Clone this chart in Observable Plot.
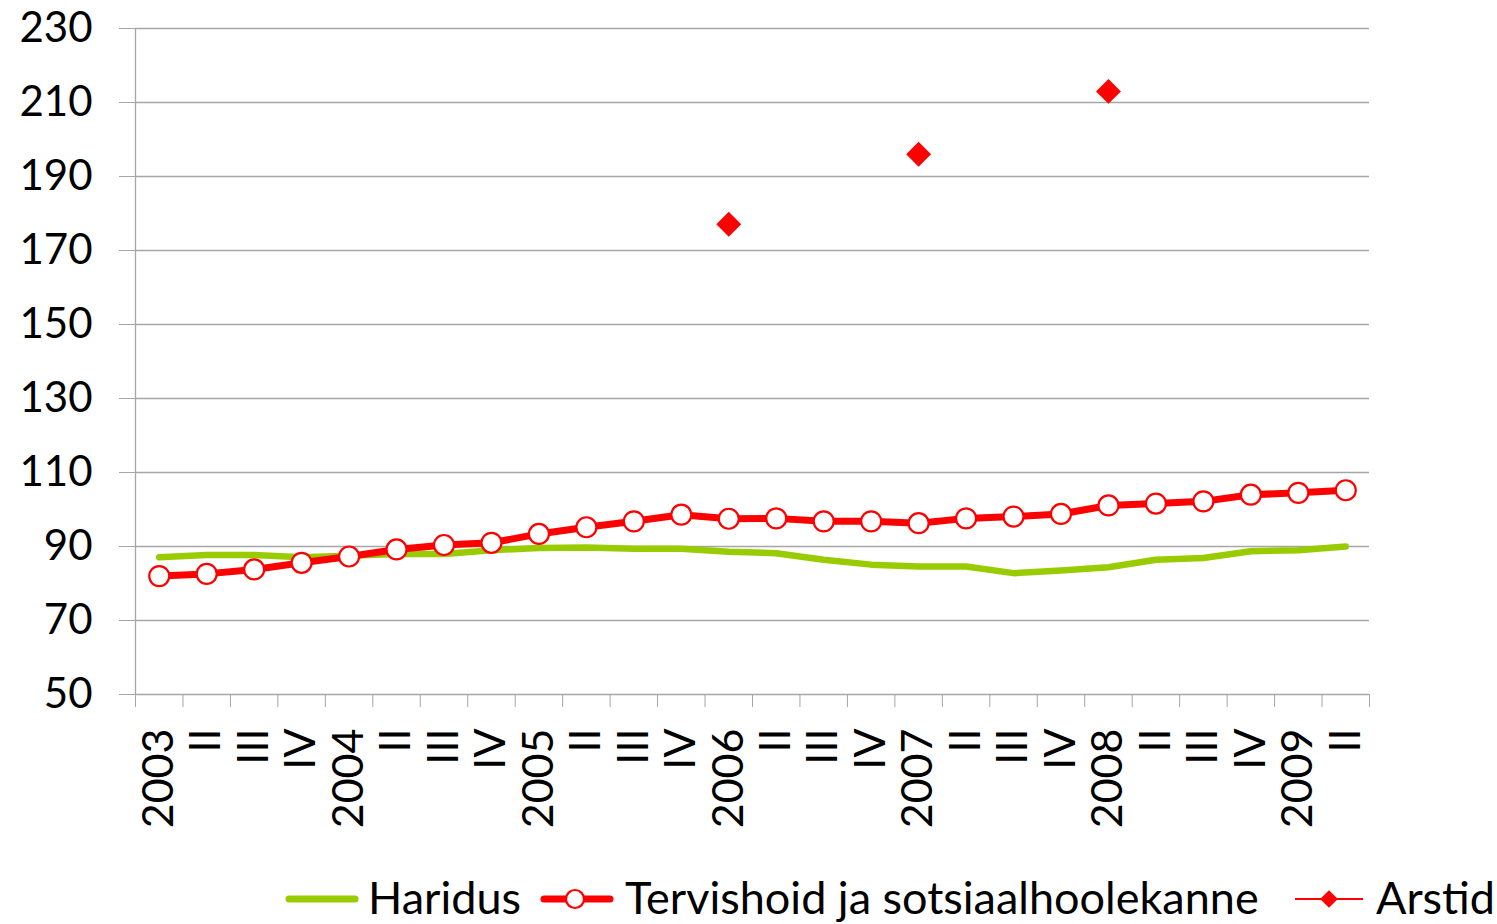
<!DOCTYPE html>
<html>
<head>
<meta charset="utf-8">
<script src="https://cdn.jsdelivr.net/npm/d3@7"></script>
<script src="https://cdn.jsdelivr.net/npm/@observablehq/plot@0.6"></script>
<style>
  body { margin: 0; background: #fff; font-family: Lato, "Open Sans", sans-serif; overflow: hidden; }
  #legend { position: relative; width: 1497px; height: 64px; font-size: 45px; line-height: 1.2; color: #000; }
  #legend .it { position: absolute; top: 0; height: 64px; display: flex; align-items: flex-end; white-space: nowrap; }
  #legend svg { display: block; }
</style>
</head>
<body>
<div id="chart"></div>
<div id="legend"></div>
<script>
const quarters = ["2003","II","III","IV","2004","II","III","IV","2005","II","III","IV","2006","II","III","IV","2007","II","III","IV","2008","II","III","IV","2009","II"];
const haridus = [87.1,87.7,87.7,87.1,87.5,88.0,88.0,89.0,89.6,89.7,89.4,89.4,88.6,88.2,86.4,85.1,84.6,84.6,82.8,83.5,84.4,86.4,86.9,88.7,89.0,90.0];
const tervishoid = [82.0,82.6,83.8,85.6,87.3,89.2,90.4,91.0,93.4,95.2,96.8,98.6,97.5,97.6,96.8,96.8,96.3,97.6,98.1,98.8,101.1,101.6,102.2,104.0,104.5,105.2];
const arstid = [null,null,null,null,null,null,null,null,null,null,null,null,177.1,null,null,null,196.0,null,null,null,213.0,null,null,null,null,null];
const yTicks = [50,70,90,110,130,150,170,190,210,230];
const seriesNames = ["Haridus","Tervishoid ja sotsiaalhoolekanne","Arstid"];

const GREEN = "#99cc00", RED = "#ff0000", GRID = "#a6a6a6";
const idx = quarters.map((_, i) => i);
const xDomain = [-0.5, quarters.length - 0.5];
const boundaries = d3.range(quarters.length + 1).map(i => i - 0.5);
const hData = idx.map(i => ({i, v: haridus[i]}));
const tData = idx.map(i => ({i, v: tervishoid[i]}));
const aData = idx.filter(i => arstid[i] != null).map(i => ({i, v: arstid[i]}));

const chart = Plot.plot({
  width: 1497,
  height: 860,
  marginLeft: 135,
  marginRight: 128,
  marginTop: 28,
  marginBottom: 166,
  style: {fontFamily: "Lato, 'Open Sans', sans-serif", fontSize: "43px", background: "#fff", color: "#000"},
  x: {domain: xDomain},
  y: {domain: [yTicks[0], yTicks[yTicks.length - 1]]},
  marks: [
    Plot.ruleY(yTicks, {stroke: GRID, strokeWidth: 1.3}),
    Plot.ruleX([xDomain[0]], {stroke: GRID, strokeWidth: 1.3}),
    Plot.axisY({ticks: yTicks, tickSize: 16, tickPadding: 27, stroke: GRID, fill: "#000", fontSize: 42, label: null}),
    Plot.axisX({ticks: boundaries, tickSize: 13, tickFormat: () => "", stroke: GRID, label: null}),
    Plot.axisX({ticks: idx, tickSize: 0, tickPadding: 34, tickRotate: -90, tickFormat: i => quarters[i], fill: "#000", label: null}),
    Plot.line(hData, {x: "i", y: "v", stroke: GREEN, strokeWidth: 6.5, strokeLinecap: "round", strokeLinejoin: "round"}),
    Plot.line(tData, {x: "i", y: "v", stroke: RED, strokeWidth: 7, strokeLinejoin: "round"}),
    Plot.dot(tData, {x: "i", y: "v", r: 10, fill: "#fff", stroke: RED, strokeWidth: 2.2}),
    Plot.dot(aData, {x: "i", y: "v", symbol: "diamond2", r: 11.2, fill: RED, stroke: "none"})
  ]
});
document.getElementById("chart").appendChild(chart);

// Legend
const legend = document.getElementById("legend");
const items = [
  {left: 285, textLeft: 368, w: 74, draw: s => {
    s.append("line").attr("x1", 4).attr("x2", 70).attr("y1", 25).attr("y2", 25)
      .attr("stroke", GREEN).attr("stroke-width", 7).attr("stroke-linecap", "round");
  }},
  {left: 540, textLeft: 625, w: 74, draw: s => {
    s.append("line").attr("x1", 4).attr("x2", 70).attr("y1", 25).attr("y2", 25)
      .attr("stroke", RED).attr("stroke-width", 7).attr("stroke-linecap", "round");
    s.append("circle").attr("cx", 35).attr("cy", 25).attr("r", 9).attr("fill", "#fff").attr("stroke", RED).attr("stroke-width", 2.2);
  }},
  {left: 1294, textLeft: 1376, w: 70, draw: s => {
    s.append("line").attr("x1", 1).attr("x2", 69).attr("y1", 25).attr("y2", 25)
      .attr("stroke", RED).attr("stroke-width", 2.2);
    s.append("path").attr("transform", "translate(35,25)").attr("d", d3.symbol(d3.symbolDiamond2, 200)()).attr("fill", RED);
  }}
];
items.forEach((it, k) => {
  const sw = document.createElement("div");
  sw.className = "it";
  sw.style.left = it.left + "px";
  const s = d3.select(sw).append("svg").attr("width", it.w).attr("height", 50);
  it.draw(s);
  legend.appendChild(sw);
  const tx = document.createElement("div");
  tx.className = "it";
  tx.style.left = it.textLeft + "px";
  tx.textContent = seriesNames[k];
  legend.appendChild(tx);
});
</script>
</body>
</html>
